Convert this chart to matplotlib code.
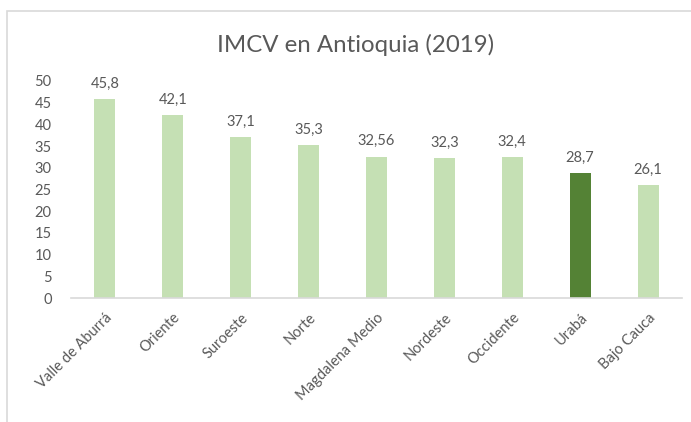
import matplotlib.pyplot as plt
from matplotlib.patches import Rectangle

# Data
regiones = ['Valle de Aburrá', 'Oriente', 'Suroeste', 'Norte', 'Magdalena Medio',
            'Nordeste', 'Occidente', 'Urabá', 'Bajo Cauca']
imcv = [45.8, 42.1, 37.1, 35.3, 32.56, 32.3, 32.4, 28.7, 26.1]
destacada = 'Urabá'
y_ticks = [0, 5, 10, 15, 20, 25, 30, 35, 40, 45, 50]

claro = '#C5E0B4'
oscuro = '#548235'
gris = '#595959'

plt.rcParams['font.family'] = ['Lato', 'DejaVu Sans']

fig = plt.figure(figsize=(6.91, 4.22), dpi=100)
# light chart border (only left and top visible in the crop)
fig.patches.append(Rectangle((7 / 691, -0.1), 1.2, (422 - 11) / 422 + 0.1,
                             transform=fig.transFigure, fill=False,
                             edgecolor='#D9D9D9', linewidth=1.2))

ax = fig.add_axes([71 / 691, 1 - 298 / 422, (682 - 71) / 691, (298 - 81) / 422])

colores = [oscuro if r == destacada else claro for r in regiones]
x = list(range(len(regiones)))
ax.bar(x, imcv, width=0.31, color=colores)

for xi, v in zip(x, imcv):
    ax.annotate(str(v).replace('.', ','), (xi, v), xytext=(0, 6),
                textcoords='offset points', ha='center', va='bottom',
                fontsize=10.5, color=gris)

ax.set_xlim(-0.5, len(regiones) - 0.5)
ax.set_ylim(0, 50)
ax.set_yticks(y_ticks)
ax.set_yticklabels([str(t) for t in y_ticks], fontsize=10.5, color=gris)
ax.set_xticks(x)
ax.set_xticklabels(regiones, rotation=45, ha='right', rotation_mode='anchor',
                   fontsize=10.5, color=gris)
ax.tick_params(axis='both', length=0)
ax.tick_params(axis='y', pad=14)
ax.tick_params(axis='x', pad=9)

for s in ['top', 'right', 'left']:
    ax.spines[s].set_visible(False)
ax.spines['bottom'].set_color('#D9D9D9')
ax.spines['bottom'].set_linewidth(1.2)

fig.text(356 / 691, 1 - 45 / 422, 'IMCV en Antioquia (2019)', ha='center',
         va='center', fontsize=17.3, color=gris)

fig.savefig('out.png', dpi=100)
